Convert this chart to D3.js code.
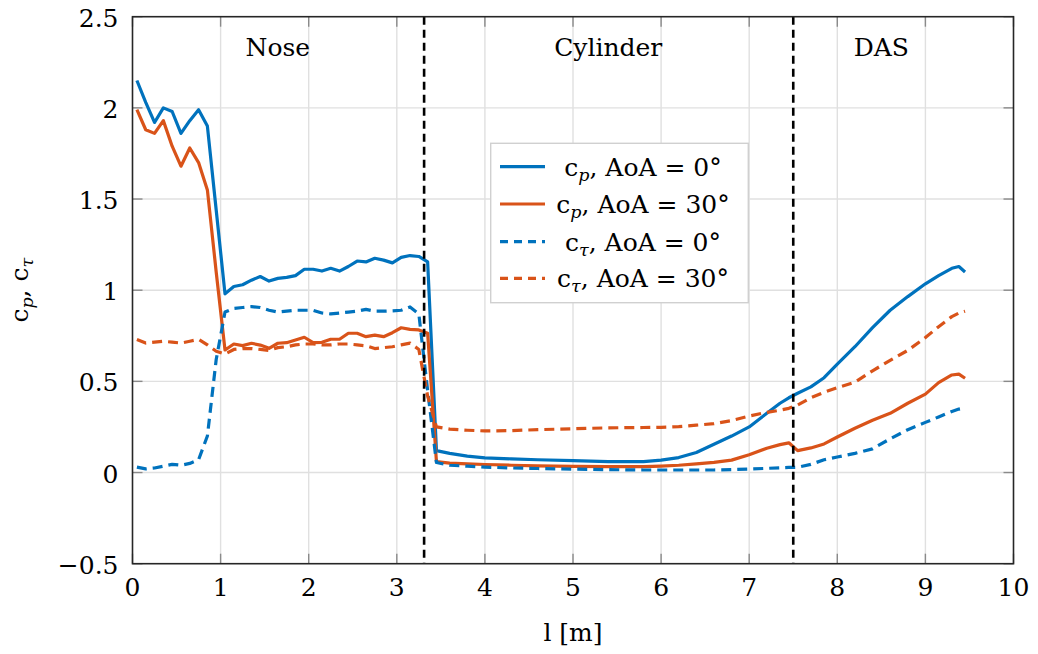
<!DOCTYPE html>
<html>
<head>
<meta charset="utf-8">
<script src="https://cdn.jsdelivr.net/npm/d3@7"></script>
<style>
  html, body { margin: 0; padding: 0; background: #fff; }
</style>
</head>
<body>
<svg id="chart" width="1038" height="654"></svg>
<script>
// Station along the body [m]
const positions = [
  0.05, 0.15, 0.25, 0.35, 0.45, 0.55, 0.65, 0.75, 0.85, 0.95,
  1.05, 1.15, 1.25, 1.35, 1.45, 1.55, 1.65, 1.75, 1.85, 1.95,
  2.05, 2.15, 2.25, 2.35, 2.45, 2.55, 2.65, 2.75, 2.85, 2.95,
  3.05, 3.15, 3.25, 3.35,
  3.45, 3.6, 3.8, 4.0, 4.3, 4.6, 5.0, 5.4, 5.8, 6.0,
  6.2, 6.4, 6.6, 6.8, 7.0, 7.2, 7.35, 7.45, 7.55, 7.7,
  7.85, 8.0, 8.2, 8.4, 8.6, 8.8, 9.0, 9.15, 9.3, 9.38, 9.45
];

// Pressure coefficient, AoA = 0°
const cpAoA0 = [
  2.15, 2.03, 1.92, 2.00, 1.98, 1.86, 1.93, 1.99, 1.90, 1.44,
  0.98, 1.02, 1.03, 1.055, 1.075, 1.05, 1.065, 1.07, 1.08, 1.115,
  1.115, 1.105, 1.12, 1.105, 1.13, 1.16, 1.155, 1.175, 1.165, 1.15,
  1.18, 1.19, 1.185, 1.155,
  0.12, 0.105, 0.09, 0.08, 0.075, 0.07, 0.065, 0.06, 0.06, 0.068,
  0.082, 0.11, 0.155, 0.2, 0.25, 0.325, 0.38, 0.41, 0.435, 0.47,
  0.52, 0.595, 0.69, 0.795, 0.89, 0.965, 1.035, 1.08, 1.12, 1.13, 1.10
];

// Pressure coefficient, AoA = 30°
const cpAoA30 = [
  1.99, 1.88, 1.86, 1.93, 1.79, 1.68, 1.78, 1.70, 1.55, 1.10,
  0.672, 0.705, 0.696, 0.709, 0.699, 0.681, 0.709, 0.712, 0.727, 0.742,
  0.712, 0.714, 0.731, 0.731, 0.764, 0.764, 0.745, 0.754, 0.745, 0.767,
  0.794, 0.785, 0.782, 0.764,
  0.06, 0.052, 0.047, 0.044, 0.04, 0.037, 0.034, 0.032, 0.032, 0.035,
  0.04, 0.048, 0.056, 0.068, 0.098, 0.133, 0.153, 0.163, 0.12, 0.135,
  0.157, 0.195, 0.243, 0.287, 0.325, 0.38, 0.43, 0.493, 0.535, 0.54, 0.517
];

// Shear stress coefficient, AoA = 0°
const ctAoA0 = [
  0.03, 0.02, 0.025, 0.035, 0.045, 0.04, 0.05, 0.07, 0.2, 0.62,
  0.88, 0.90, 0.905, 0.91, 0.905, 0.89, 0.88, 0.885, 0.89, 0.89,
  0.89, 0.875, 0.87, 0.875, 0.88, 0.885, 0.895, 0.885, 0.885, 0.887,
  0.89, 0.908, 0.87, 0.45,
  0.055, 0.04, 0.035, 0.03, 0.025, 0.022, 0.019, 0.016, 0.014, 0.014,
  0.014, 0.014, 0.014, 0.016, 0.019, 0.023, 0.026, 0.028, 0.029, 0.045,
  0.07, 0.085, 0.105, 0.13, 0.185, 0.235, 0.275, 0.305, 0.335, 0.348, 0.355
];

// Shear stress coefficient, AoA = 30°
const ctAoA30 = [
  0.73, 0.71, 0.715, 0.72, 0.715, 0.71, 0.72, 0.73, 0.70, 0.665,
  0.65, 0.675, 0.68, 0.68, 0.675, 0.67, 0.685, 0.69, 0.70, 0.705,
  0.705, 0.70, 0.70, 0.705, 0.705, 0.70, 0.695, 0.68, 0.685, 0.69,
  0.70, 0.71, 0.675, 0.42,
  0.25, 0.238, 0.232, 0.228, 0.23, 0.235, 0.24, 0.245, 0.247, 0.248,
  0.252, 0.26, 0.268, 0.285, 0.31, 0.33, 0.342, 0.352, 0.37, 0.41,
  0.44, 0.465, 0.495, 0.558, 0.615, 0.67, 0.74, 0.8, 0.855, 0.875, 0.885
];

const xTicks = [0, 1, 2, 3, 4, 5, 6, 7, 8, 9, 10];
const yTicks = [-0.5, 0, 0.5, 1, 1.5, 2, 2.5];
const yTickLabels = ["\u22120.5", "0", "0.5", "1", "1.5", "2", "2.5"];

// Section boundaries [m] and section names
const sectionBounds = [3.31, 7.5];
const sectionNames = ["Nose", "Cylinder", "DAS"];
const sectionLabelX = [1.65, 5.4, 8.5];

const blue = "#0072BD", orange = "#D95319";
const series = [
  { y: cpAoA0,  color: blue,   dash: null,   sym: "p",     aoa: "0" },
  { y: cpAoA30, color: orange, dash: null,   sym: "p",     aoa: "30" },
  { y: ctAoA0,  color: blue,   dash: "10,6", sym: "\u03c4", aoa: "0" },
  { y: ctAoA30, color: orange, dash: "10,6", sym: "\u03c4", aoa: "30" }
];

const FONT = "'DejaVu Serif', 'Liberation Serif', serif";
const svg = d3.select("#chart")
  .attr("font-family", FONT)
  .style("font-family", FONT);
const pL = 132.5, pR = 1013.5, pT = 16.7, pB = 563.7;
const x = d3.scaleLinear().domain([0, 10]).range([pL, pR]);
const y = d3.scaleLinear().domain([-0.5, 2.5]).range([pB, pT]);
const FS = 25;

// grid
const grid = svg.append("g");
grid.selectAll("line.gx").data(xTicks.slice(1, -1)).join("line")
  .attr("x1", d => x(d)).attr("x2", d => x(d))
  .attr("y1", pT).attr("y2", pB)
  .attr("stroke", "#e0e0e0").attr("stroke-width", 1.4);
grid.selectAll("line.gy").data(yTicks.slice(1, -1)).join("line")
  .attr("x1", pL).attr("x2", pR)
  .attr("y1", d => y(d)).attr("y2", d => y(d))
  .attr("stroke", "#e0e0e0").attr("stroke-width", 1.4);

// inner ticks on all four sides
const tk = 10;
const ticks = svg.append("g").attr("stroke", "#8a8a8a").attr("stroke-width", 1.4);
xTicks.forEach(d => {
  ticks.append("line").attr("x1", x(d)).attr("x2", x(d)).attr("y1", pB).attr("y2", pB - tk);
  ticks.append("line").attr("x1", x(d)).attr("x2", x(d)).attr("y1", pT).attr("y2", pT + tk);
});
yTicks.forEach(d => {
  ticks.append("line").attr("x1", pL).attr("x2", pL + tk).attr("y1", y(d)).attr("y2", y(d));
  ticks.append("line").attr("x1", pR).attr("x2", pR - tk).attr("y1", y(d)).attr("y2", y(d));
});

// data lines
const line = d3.line().x((d, i) => x(positions[i])).y(d => y(d));
series.forEach(s => {
  svg.append("path").datum(s.y)
    .attr("d", line)
    .attr("fill", "none")
    .attr("stroke", s.color)
    .attr("stroke-width", 3.2)
    .attr("stroke-linejoin", "round")
    .attr("stroke-dasharray", s.dash);
});

// section boundaries
svg.selectAll("line.sec").data(sectionBounds).join("line")
  .attr("x1", d => x(d)).attr("x2", d => x(d))
  .attr("y1", pT).attr("y2", pB)
  .attr("stroke", "#000").attr("stroke-width", 2.6)
  .attr("stroke-dasharray", "8,5");

// axes box
svg.append("rect").attr("x", pL).attr("y", pT)
  .attr("width", pR - pL).attr("height", pB - pT)
  .attr("fill", "none").attr("stroke", "#262626").attr("stroke-width", 1.6);

// tick labels
svg.selectAll("text.xt").data(xTicks).join("text")
  .attr("x", d => x(d)).attr("y", pB + 32)
  .attr("text-anchor", "middle").attr("font-size", FS)
  .text(d => d);
svg.selectAll("text.yt").data(yTicks).join("text")
  .attr("x", pL - 14).attr("y", d => y(d) + 10)
  .attr("text-anchor", "end").attr("font-size", FS)
  .text((d, i) => yTickLabels[i]);

// section names
svg.selectAll("text.sec").data(sectionNames).join("text")
  .attr("x", (d, i) => x(sectionLabelX[i])).attr("y", y(2.285))
  .attr("text-anchor", "middle").attr("font-size", FS)
  .text(d => d);

// axis labels
svg.append("text").attr("x", x(5)).attr("y", 641)
  .attr("text-anchor", "middle").attr("font-size", FS)
  .text("l [m]");

const yl = svg.append("text")
  .attr("transform", `translate(28, ${(pT + pB) / 2}) rotate(-90)`)
  .attr("text-anchor", "middle").attr("font-size", FS);
yl.append("tspan").text("c");
yl.append("tspan").attr("font-style", "italic").attr("font-size", FS * 0.7).attr("dy", 5).text("p");
yl.append("tspan").attr("dy", -5).text(", c");
yl.append("tspan").attr("font-style", "italic").attr("font-size", FS * 0.7).attr("dy", 5).text("\u03c4");

// legend
const lg = svg.append("g");
lg.append("rect").attr("x", 490.7).attr("y", 143.3)
  .attr("width", 257.6).attr("height", 159.4)
  .attr("fill", "#fff").attr("stroke", "#d0d0d0").attr("stroke-width", 1.4);
const rowY = [166.7, 204, 241.7, 278.3];
series.forEach((s, i) => {
  lg.append("line").attr("x1", 500).attr("x2", 545)
    .attr("y1", rowY[i]).attr("y2", rowY[i])
    .attr("stroke", s.color).attr("stroke-width", 3.2)
    .attr("stroke-dasharray", s.dash ? "8,6" : null);
  const t = lg.append("text").attr("x", 643).attr("y", rowY[i] + 9)
    .attr("text-anchor", "middle").attr("font-size", FS);
  t.append("tspan").text("c");
  t.append("tspan").attr("font-style", "italic").attr("font-size", FS * 0.7).attr("dy", 5).text(s.sym);
  t.append("tspan").attr("dy", -5).text(`, AoA = ${s.aoa}\u00b0`);
});
</script>
</body>
</html>
